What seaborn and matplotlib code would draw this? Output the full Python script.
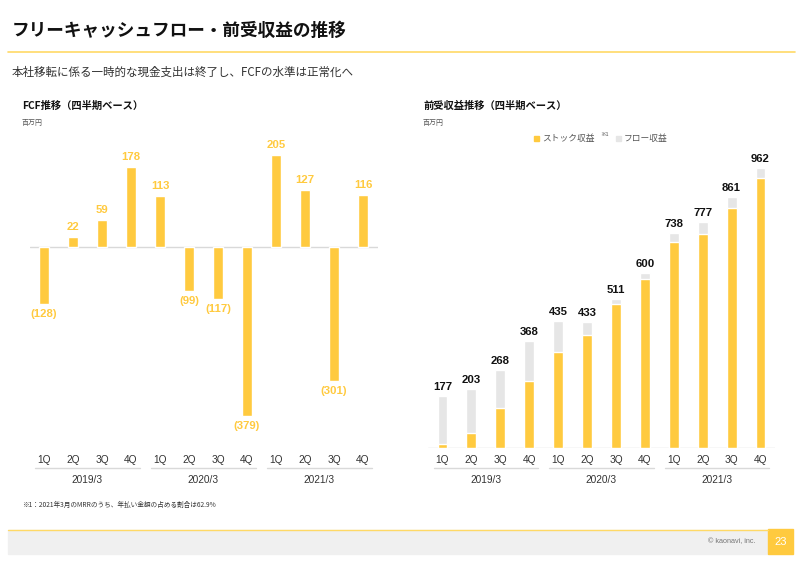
import matplotlib.pyplot as plt
import matplotlib.transforms as mtrans
from matplotlib.patches import Rectangle
import seaborn as sns
import pandas as pd

# データ
years = ['2019/3', '2020/3', '2021/3']
quarters = ['1Q', '2Q', '3Q', '4Q']
fcf = [-128, 22, 59, 178, 113, -99, -117, -379, 205, 127, -301, 116]
total_rev = [177, 203, 268, 368, 435, 433, 511, 600, 738, 777, 861, 962]
stock_rev = [14, 53, 137, 231, 330, 388, 494, 581, 709, 735, 824, 927]

periods = [f'{y} {q}' for y in years for q in quarters]
df = pd.DataFrame({'period': periods, 'fcf': fcf, 'total': total_rev, 'stock': stock_rev})

YELLOW = '#FFCA3F'
GRAY = '#E6E6E6'
LINE = '#D9D9D9'

sns.set_style('white')
plt.rcParams['font.family'] = ['Noto Sans CJK JP', 'DejaVu Sans']
NUM = ['Liberation Sans', 'DejaVu Sans']

W, H = 800, 564
fig = plt.figure(figsize=(8, 5.64), dpi=100)


def fx(px):
    return px / W


def fy(py):
    return 1 - py / H


# スライドのタイトル部分
fig.text(fx(12), fy(31), 'フリーキャッシュフロー・前受収益の推移', fontsize=12.7,
         fontweight='bold', va='center', ha='left', color='#111111')
fig.add_artist(plt.Line2D([fx(8), fx(795)], [fy(52), fy(52)], color='#FFD966', lw=1.2))
fig.text(fx(12), fy(72), '本社移転に係る一時的な現金支出は終了し、FCFの水準は正常化へ',
         fontsize=8.3, va='center', ha='left', color='#333333')


def setup_axes(ax):
    ax.set_xlim(-0.5, 11.5)
    for s in ['top', 'right', 'left', 'bottom']:
        ax.spines[s].set_visible(False)
    ax.set_xticks([])
    ax.set_yticks([])
    ax.set_xlabel('')
    ax.set_ylabel('')
    trans = mtrans.blended_transform_factory(ax.transData, ax.transAxes)
    for i, p in enumerate(periods):
        ax.text(i, -0.039, p.split()[1], transform=trans, ha='center', va='center',
                fontsize=7.3, family=NUM, color='#333333')
    for g, y in enumerate(years):
        ax.plot([g * 4 - 0.3, g * 4 + 3.3], [-0.065, -0.065], transform=trans,
                color=LINE, lw=1, clip_on=False)
        ax.text(g * 4 + 1.5, -0.104, y, transform=trans, ha='center', va='center',
                fontsize=7.3, family=NUM, color='#333333')


# 左: FCF推移
axl = fig.add_axes([fx(29.5), fy(448), fx(348), (448 - 140) / H])
sns.barplot(data=df, x='period', y='fcf', color=YELLOW, saturation=1, width=0.34, ax=axl)
axl.set_ylim(-451, 239)
axl.axhline(0, color=LINE, lw=1, zorder=0)
setup_axes(axl)
for i, v in enumerate(fcf):
    if v >= 0:
        axl.text(i, v + 12, f'{v}', ha='center', va='bottom', fontsize=8.2,
                 fontweight='bold', family=NUM, color=YELLOW)
    else:
        axl.text(i, v - 12, f'({-v})', ha='center', va='top', fontsize=8.2,
                 fontweight='bold', family=NUM, color=YELLOW)
fig.text(fx(22), fy(106), 'FCF推移（四半期ベース）', fontsize=7.4, fontweight='bold',
         va='center', ha='left', color='#111111')
fig.text(fx(22), fy(123), '百万円', fontsize=5, va='center', ha='left', color='#555555')

# 右: 前受収益推移
axr = fig.add_axes([fx(428), fy(448), fx(347), (448 - 140) / H])
sns.barplot(data=df, x='period', y='total', color=GRAY, saturation=1, width=0.34, ax=axr)
sns.barplot(data=df, x='period', y='stock', color=YELLOW, saturation=1, width=0.34, ax=axr)
axr.set_ylim(0, 1058)
axr.axhline(0, color=LINE, lw=1, zorder=0)
setup_axes(axr)
axr.hlines(stock_rev, [i - 0.17 for i in range(12)], [i + 0.17 for i in range(12)],
           colors='white', linestyles=':', lw=0.5)
for i, v in enumerate(total_rev):
    axr.text(i, v + 14, f'{v}', ha='center', va='bottom', fontsize=8.2,
             fontweight='bold', family=NUM, color='#111111')
fig.text(fx(423), fy(106), '前受収益推移（四半期ベース）', fontsize=7.4, fontweight='bold',
         va='center', ha='left', color='#111111')
fig.text(fx(423), fy(123), '百万円', fontsize=5, va='center', ha='left', color='#555555')

# 凡例
fig.add_artist(Rectangle((fx(534), fy(141)), fx(5), 5 / H, color=YELLOW))
fig.text(fx(542), fy(138), 'ストック収益', fontsize=6.3, va='center', ha='left', color='#555555')
fig.text(fx(600), fy(135), '※1', fontsize=4, va='center', ha='left', color='#555555')
fig.add_artist(Rectangle((fx(616), fy(141)), fx(5), 5 / H, color=GRAY))
fig.text(fx(624), fy(138), 'フロー収益', fontsize=6.3, va='center', ha='left', color='#555555')

# 注記
fig.text(fx(22), fy(505), '※1：2021年3月のMRRのうち、年払い金額の占める割合は62.9%',
         fontsize=4.8, va='center', ha='left', color='#333333')

# フッター
fig.add_artist(Rectangle((fx(8), fy(554)), fx(760), 24 / H, color='#F0F0F0'))
fig.add_artist(plt.Line2D([fx(8), fx(768)], [fy(530), fy(530)], color='#FFD966', lw=1))
fig.add_artist(Rectangle((fx(768), fy(554)), fx(25), 25 / H, color=YELLOW))
fig.text(fx(780.5), fy(542), '23', fontsize=8, va='center', ha='center', color='white', family=NUM)
fig.text(fx(755), fy(542), '© kaonavi, inc.', fontsize=5.2, va='center', ha='right',
         color='#777777', family=NUM)

fig.savefig('out.png', dpi=100)
